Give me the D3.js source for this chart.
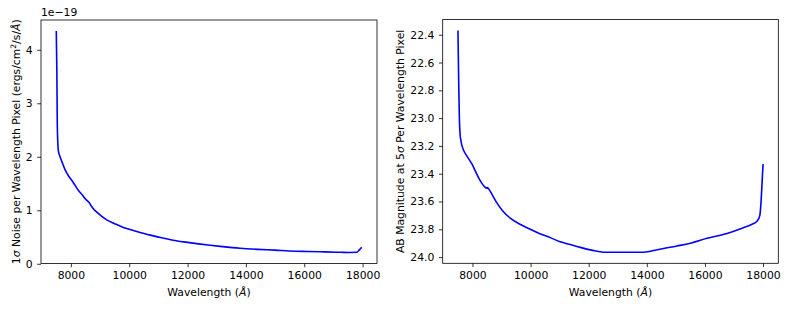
<!DOCTYPE html>
<html><head><meta charset="utf-8">
<script src="https://cdn.jsdelivr.net/npm/d3@7"></script>
<style>
body{margin:0;background:#fff;}
svg{display:block;font-family:"DejaVu Sans",sans-serif;}
</style></head>
<body><svg id="chart" width="789" height="309"></svg>
<script>
// Left panel: 1-sigma noise per wavelength pixel (units of 1e-19 ergs/cm2/s/A)
const noiseWavelength = [7500,7520,7535,7550,7570,7630,7700,7800,7900,8030,8150,8260,8400,8500,8560,8620,8700,8800,8900,9050,9230,9500,9800,10100,10400,10700,11070,11500,12000,12700,13200,13800,14400,15000,15500,16100,16700,17250,17550,17800,17890,17970];
const noiseValue = [4.35,3.6,2.6,2.3,2.12,2.0,1.9,1.76,1.66,1.56,1.46,1.37,1.28,1.21,1.18,1.15,1.08,1.01,0.96,0.89,0.82,0.75,0.68,0.63,0.58,0.54,0.49,0.44,0.40,0.35,0.32,0.29,0.27,0.255,0.24,0.23,0.222,0.215,0.212,0.215,0.26,0.31];
const noiseTicksY = [0,1,2,3,4];

// Right panel: AB magnitude at 5 sigma per wavelength pixel
const magWavelength = [7500,7530,7550,7575,7600,7690,7800,7980,8120,8265,8400,8496,8510,8560,8700,8840,9050,9300,9600,9990,10300,10680,11020,11370,11710,12100,12510,13000,13500,13890,14400,15040,15500,16070,16760,17300,17600,17800,17890,17935,17970,18000];
const magValue = [22.37,22.8,23.01,23.12,23.16,23.23,23.27,23.33,23.39,23.45,23.49,23.505,23.50,23.51,23.56,23.61,23.67,23.72,23.76,23.80,23.83,23.86,23.89,23.91,23.93,23.95,23.965,23.965,23.965,23.965,23.945,23.92,23.90,23.865,23.83,23.79,23.765,23.74,23.70,23.59,23.45,23.33];
const magTicksY = [22.4,22.6,22.8,23.0,23.2,23.4,23.6,23.8,24.0];

const xTicks = [8000,10000,12000,14000,16000,18000];

const svg = d3.select("#chart");
const FS = 10.8;

function padded(ext){ const r = ext[1]-ext[0]; return [ext[0]-0.05*r, ext[1]+0.05*r]; }

function panel(o){
  const g = svg.append("g");
  const x = d3.scaleLinear().domain(padded(d3.extent(o.xs))).range([o.left, o.right]);
  const yd = padded(d3.extent(o.ys));
  const y = d3.scaleLinear().domain(yd).range(o.invert ? [o.top, o.bottom] : [o.bottom, o.top]);

  const line = d3.line().x((d,i)=>x(o.xs[i])).y((d,i)=>y(o.ys[i])).curve(d3.curveMonotoneX);
  g.append("path").datum(o.ys).attr("d", line)
    .attr("fill","none").attr("stroke","#0000ff").attr("stroke-width",1.6).attr("stroke-linejoin","round");

  const xa = g.append("g").attr("transform",`translate(0,${o.bottom})`)
    .call(d3.axisBottom(x).tickValues(xTicks).tickFormat(d3.format("d")).tickSizeOuter(0).tickSize(3.8).tickPadding(4.5));
  const ya = g.append("g").attr("transform",`translate(${o.left},0)`)
    .call(d3.axisLeft(y).tickValues(o.yTicks).tickFormat(o.fmt).tickSizeOuter(0).tickSize(3.8).tickPadding(4.5));
  [xa,ya].forEach(a=>{
    a.select(".domain").remove();
    a.selectAll("line").attr("stroke","#000").attr("stroke-width",0.8);
    a.selectAll("text").attr("font-size",FS).attr("fill","#000").attr("font-family","DejaVu Sans");
  });
  g.append("rect").attr("x",o.left).attr("y",o.top).attr("width",o.right-o.left).attr("height",o.bottom-o.top)
    .attr("fill","none").attr("stroke","#000").attr("stroke-width",0.8);

  const xl = g.append("text").attr("x",(o.left+o.right)/2).attr("y",296)
    .attr("text-anchor","middle").attr("font-size",FS);
  xl.append("tspan").text("Wavelength (");
  xl.append("tspan").attr("font-style","italic").text("Å");
  xl.append("tspan").text(")");
  return {g,x,y};
}

const L = panel({xs:noiseWavelength, ys:noiseValue, left:41, right:377, top:20, bottom:263.5, yTicks:noiseTicksY, fmt:d3.format("d")});
const R = panel({xs:magWavelength, ys:magValue, left:442.7, right:778.3, top:19.5, bottom:263.3, yTicks:magTicksY, fmt:d3.format(".1f"), invert:true});

svg.append("text").attr("x",41).attr("y",16).attr("font-size",FS).text("1e\u221219");

const ly = svg.append("text").attr("transform",`translate(20,${(20+263.5)/2}) rotate(-90)`)
  .attr("text-anchor","middle").attr("font-size",FS);
ly.append("tspan").text("1");
ly.append("tspan").attr("font-style","italic").text("σ");
ly.append("tspan").text(" Noise per Wavelength Pixel (ergs/cm");
ly.append("tspan").attr("baseline-shift","super").attr("font-size",FS*0.7).text("2");
ly.append("tspan").text("/s/");
ly.append("tspan").attr("font-style","italic").text("Å");
ly.append("tspan").text(")");

const ry = svg.append("text").attr("transform",`translate(404,${(19.5+263.3)/2}) rotate(-90)`)
  .attr("text-anchor","middle").attr("font-size",FS);
ry.append("tspan").text("AB Magnitude at 5");
ry.append("tspan").attr("font-style","italic").text("σ");
ry.append("tspan").text(" Per Wavelength Pixel");
</script></body></html>
